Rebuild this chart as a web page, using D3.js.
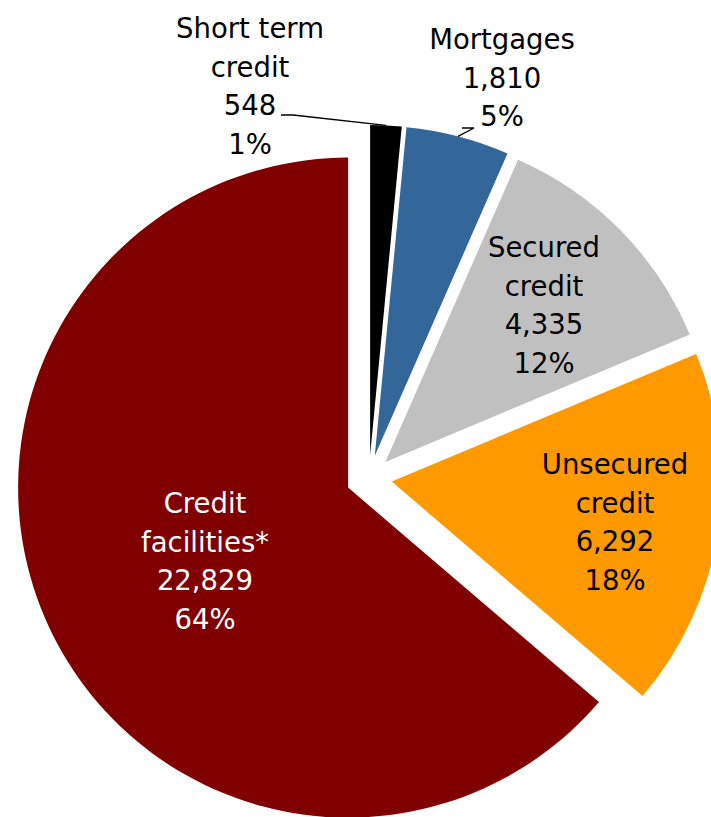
<!DOCTYPE html>
<html>
<head>
<meta charset="utf-8">
<script src="https://cdn.jsdelivr.net/npm/d3@7"></script>
<style>
  html, body { margin: 0; padding: 0; background: #ffffff; }
  svg { display: block; }
  text { font-family: "DejaVu Sans", Verdana, sans-serif; font-size: 27.5px; }
</style>
</head>
<body>
<svg id="chart" width="711" height="817"></svg>
<script>
// Outstanding credit by type
const categories = ["Short term credit", "Mortgages", "Secured credit", "Unsecured credit", "Credit facilities*"];
const labelLines = [["Short term", "credit"], ["Mortgages"], ["Secured", "credit"], ["Unsecured", "credit"], ["Credit", "facilities*"]];
const values = [548, 1810, 4335, 6292, 22829];
const percentLabels = ["1%", "5%", "12%", "18%", "64%"];
const colors = ["#000000", "#336699", "#C0C0C0", "#FF9900", "#800000"];
const textColors = ["#000000", "#000000", "#000000", "#000000", "#ffffff"];

// Layout
const cx = 369, cy = 478;       // common centre before explosion
const radius = 330;
const explode = 23;              // every slice pushed outward along its bisector
const lineStep = 38.5;
// label anchor (centre x, first baseline y) for each slice
const labelAnchors = [[250, 38], [502, 49], [544, 257], [615, 474], [205, 513]];
// elbow of the leader line for labels placed outside the pie
const leaderElbows = {0: [[281, 115], [293, 115]], 1: [[474, 128], [462, 128]]};

const fmt = d3.format(",");
const svg = d3.select("#chart");

const pie = d3.pie().sort(null).startAngle(0).endAngle(2 * Math.PI);
const arcs = pie(values);
const arc = d3.arc().innerRadius(0).outerRadius(radius);

function offsetOf(d) {
  const mid = (d.startAngle + d.endAngle) / 2;
  return [cx + explode * Math.sin(mid), cy - explode * Math.cos(mid)];
}

svg.append("g").selectAll("path")
  .data(arcs)
  .join("path")
  .attr("transform", d => { const o = offsetOf(d); return `translate(${o[0]},${o[1]})`; })
  .attr("d", arc)
  .attr("fill", (d, i) => colors[i]);

// leader lines for the two thin slices
Object.keys(leaderElbows).forEach(k => {
  const i = +k;
  const d = arcs[i];
  const o = offsetOf(d);
  const mid = (d.startAngle + d.endAngle) / 2;
  const edge = [o[0] + radius * Math.sin(mid), o[1] - radius * Math.cos(mid)];
  const pts = i === 0 ? [...leaderElbows[k], edge] : [edge, ...leaderElbows[k]].reverse();
  svg.append("path")
    .attr("d", d3.line()(pts))
    .attr("fill", "none")
    .attr("stroke", "#000")
    .attr("stroke-width", 1.3);
});

// data labels: name lines, value, share
const labels = svg.append("g").attr("text-anchor", "middle");
arcs.forEach((d, i) => {
  const lines = [...labelLines[i], fmt(values[i]), percentLabels[i]];
  const [lx, ly] = labelAnchors[i];
  const t = labels.append("text").attr("fill", textColors[i]);
  lines.forEach((s, j) => {
    t.append("tspan").attr("x", lx).attr("y", ly + j * lineStep).text(s);
  });
});
</script>
</body>
</html>
